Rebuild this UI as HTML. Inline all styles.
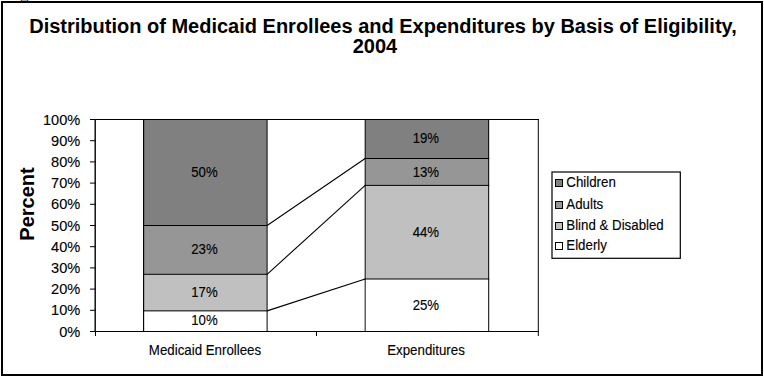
<!DOCTYPE html>
<html><head><meta charset="utf-8">
<style>
html,body{margin:0;padding:0;background:#fff;width:764px;height:377px;overflow:hidden}
svg{display:block}
text{font-family:"Liberation Sans",sans-serif;fill:#000}
.t{stroke:#000;stroke-width:0.12}
</style></head><body>
<svg width="764" height="377" viewBox="0 0 764 377">
<rect x="0" y="0" width="764" height="377" fill="#fff"/>
<g shape-rendering="crispEdges"><rect x="20" y="0" width="1" height="1" fill="#e8c898"/><rect x="21" y="0" width="1" height="1" fill="#604838"/><rect x="22" y="0" width="5" height="1" fill="#b0b0b0"/><rect x="27" y="0" width="1" height="1" fill="#504860"/><rect x="28" y="0" width="1" height="1" fill="#a8d0f8"/></g>
<rect x="2" y="2" width="760" height="373" fill="none" stroke="#000" stroke-width="2"/>
<!-- title -->
<text x="383" y="33" font-size="20" font-weight="bold" text-anchor="middle">Distribution of Medicaid Enrollees and Expenditures by Basis of Eligibility,</text>
<text x="375" y="53" font-size="20" font-weight="bold" text-anchor="middle">2004</text>
<!-- y axis title -->
<text transform="translate(33.5,204) rotate(-90)" font-size="20" font-weight="bold" text-anchor="middle">Percent</text>
<!-- plot area border -->
<g stroke="#000" stroke-width="1" fill="none" shape-rendering="crispEdges">
<!-- bars -->
</g>
<!-- bar fills -->
<g shape-rendering="crispEdges" stroke="none">
<rect x="143" y="119" width="124" height="106" fill="#808080"/>
<rect x="143" y="225" width="124" height="49" fill="#969696"/>
<rect x="143" y="274" width="124" height="37" fill="#c0c0c0"/>
<rect x="365" y="119" width="124" height="39" fill="#808080"/>
<rect x="365" y="158" width="124" height="27" fill="#969696"/>
<rect x="365" y="185" width="124" height="94" fill="#c0c0c0"/>
</g>
<g stroke="#000" stroke-width="1.15" fill="none" stroke-linecap="square">
<!-- bar 1 lines -->
<line x1="143.6" y1="119.5" x2="143.6" y2="331.4"/>
<line x1="267.1" y1="119.5" x2="267.1" y2="331.4" stroke-width="1"/>
<line x1="143.6" y1="225.5" x2="266.9" y2="225.5" stroke-width="1"/>
<line x1="143.6" y1="274.3" x2="266.9" y2="274.3" stroke-width="1"/>
<line x1="143.6" y1="310.88" x2="266.9" y2="310.88" stroke-width="1"/>
<!-- bar 2 lines -->
<line x1="365.17" y1="119.5" x2="365.17" y2="331.4" stroke-width="0.95"/>
<line x1="488.7" y1="119.5" x2="488.7" y2="331.4" stroke-width="1"/>
<line x1="365.17" y1="158.5" x2="488.7" y2="158.5" stroke-width="1"/>
<line x1="365.17" y1="185.4" x2="488.7" y2="185.4" stroke-width="1"/>
<line x1="365.17" y1="279" x2="488.7" y2="279" stroke-width="1.1"/>
</g>
<g stroke="#000" stroke-width="1.1" fill="none">
<line x1="267.1" y1="225.5" x2="365.17" y2="158.5"/>
<line x1="267.1" y1="274.3" x2="365.17" y2="185.4"/>
<line x1="267.1" y1="310.88" x2="365.17" y2="279"/>
</g>
<g stroke="#000" stroke-width="1" fill="none" shape-rendering="crispEdges">
<!-- plot top & right border -->
<line x1="95.5" y1="119.5" x2="538.5" y2="119.5"/>
</g>
<line x1="538.3" y1="119" x2="538.3" y2="336" stroke="#000" stroke-width="1"/>
<line x1="95.2" y1="119" x2="95.2" y2="332" stroke="#000" stroke-width="1.4"/>
<g stroke="#000" stroke-width="1" fill="none">
<line x1="90" y1="119.5" x2="95.5" y2="119.5"/>
<line x1="90" y1="140.7" x2="95.5" y2="140.7"/>
<line x1="90" y1="161.9" x2="95.5" y2="161.9"/>
<line x1="90" y1="183.1" x2="95.5" y2="183.1"/>
<line x1="90" y1="204.3" x2="95.5" y2="204.3"/>
<line x1="90" y1="225.5" x2="95.5" y2="225.5"/>
<line x1="90" y1="246.7" x2="95.5" y2="246.7"/>
<line x1="90" y1="267.9" x2="95.5" y2="267.9"/>
<line x1="90" y1="289.1" x2="95.5" y2="289.1"/>
<line x1="90" y1="310.3" x2="95.5" y2="310.3"/>
<line x1="90" y1="331.5" x2="95.5" y2="331.5"/>
</g>
<g stroke="#000" stroke-width="1" fill="none" shape-rendering="crispEdges">
<!-- x axis -->
<line x1="95.5" y1="331.5" x2="538.5" y2="331.5"/>
<line x1="95.5" y1="331.5" x2="95.5" y2="336"/>
<line x1="316.5" y1="331.5" x2="316.5" y2="336"/>
</g>
<!-- y labels -->
<g font-size="14.6" text-anchor="end" class="t">
<text x="80.3" y="124.6" transform="matrix(1,0,0,1.03,0,-3.738)">100%</text>
<text x="80.3" y="145.8" transform="matrix(1,0,0,1.03,0,-4.374)">90%</text>
<text x="80.3" y="167.0" transform="matrix(1,0,0,1.03,0,-5.010)">80%</text>
<text x="80.3" y="188.2" transform="matrix(1,0,0,1.03,0,-5.646)">70%</text>
<text x="80.3" y="209.4" transform="matrix(1,0,0,1.03,0,-6.282)">60%</text>
<text x="80.3" y="230.6" transform="matrix(1,0,0,1.03,0,-6.918)">50%</text>
<text x="80.3" y="251.8" transform="matrix(1,0,0,1.03,0,-7.554)">40%</text>
<text x="80.3" y="273.0" transform="matrix(1,0,0,1.03,0,-8.190)">30%</text>
<text x="80.3" y="294.2" transform="matrix(1,0,0,1.03,0,-8.826)">20%</text>
<text x="80.3" y="315.4" transform="matrix(1,0,0,1.03,0,-9.462)">10%</text>
<text x="80.3" y="336.6" transform="matrix(1,0,0,1.03,0,-10.098)">0%</text>
</g>
<!-- data labels -->
<g font-size="13.2" text-anchor="middle" class="t">
<text x="204.5" y="177" transform="matrix(1,0,0,1.07,0,-12.390)">50%</text>
<text x="204.5" y="254" transform="matrix(1,0,0,1.07,0,-17.780)">23%</text>
<text x="204.5" y="297" transform="matrix(1,0,0,1.07,0,-20.790)">17%</text>
<text x="204.5" y="325" transform="matrix(1,0,0,1.07,0,-22.750)">10%</text>
<text x="425.9" y="143" transform="matrix(1,0,0,1.07,0,-10.010)">19%</text>
<text x="425.9" y="177" transform="matrix(1,0,0,1.07,0,-12.390)">13%</text>
<text x="425.9" y="237" transform="matrix(1,0,0,1.07,0,-16.590)">44%</text>
<text x="425.9" y="310" transform="matrix(1,0,0,1.07,0,-21.700)">25%</text>
</g>
<!-- x labels -->
<g font-size="13.3" text-anchor="middle" class="t">
<text x="205" y="355" transform="matrix(1,0,0,1.07,0,-24.850)">Medicaid Enrollees</text>
<text x="426" y="355" transform="matrix(1,0,0,1.07,0,-24.850)">Expenditures</text>
</g>
<!-- legend -->
<g shape-rendering="crispEdges">
<rect x="552" y="172" width="128.3" height="86.3" fill="#fff" stroke="#000" stroke-width="1.2" shape-rendering="geometricPrecision"/>
<rect x="555.5" y="179.5" width="7" height="7" fill="#808080" stroke="#000"/>
<rect x="555.5" y="201.5" width="7" height="7" fill="#969696" stroke="#000"/>
<rect x="555.5" y="222.5" width="7" height="7" fill="#c0c0c0" stroke="#000"/>
<rect x="555.5" y="242.5" width="7" height="7" fill="#fff" stroke="#000"/>
</g>
<g font-size="13.3" class="t">
<text x="566.3" y="187.4" transform="matrix(1,0,0,1.06,0,-11.244)">Children</text>
<text x="566.3" y="209.4" transform="matrix(1,0,0,1.06,0,-12.564)">Adults</text>
<text x="566.3" y="230.4" transform="matrix(1,0,0,1.06,0,-13.824)">Blind &amp; Disabled</text>
<text x="566.3" y="250.4" transform="matrix(1,0,0,1.06,0,-15.024)">Elderly</text>
</g>
</svg>
</body></html>
